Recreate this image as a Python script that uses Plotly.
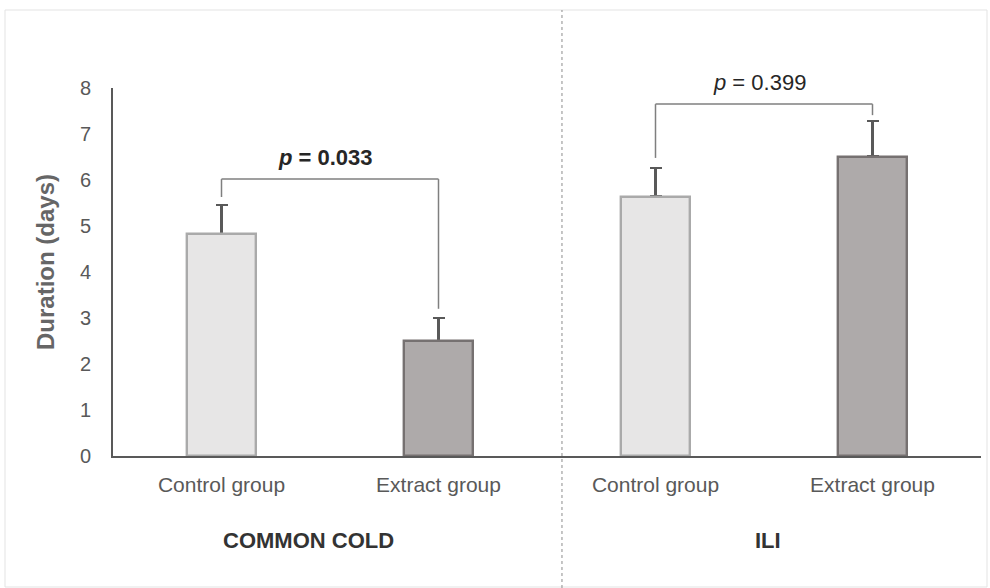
import plotly.graph_objects as go

# ---- data ----
categories = ["Control group", "Extract group", "Control group", "Extract group"]
groups = ["COMMON COLD", "ILI"]
durations = [4.82, 2.50, 5.64, 6.51]
errors_up = [0.64, 0.50, 0.62, 0.77]
is_extract = [False, True, False, True]
# significance brackets: (left idx, right idx, bar height, left leg bottom, right leg bottom, label, bold, label y)
brackets = [
    (0, 1, 6.02, 5.63, 3.20, "p = 0.033", True, 6.48),
    (2, 3, 7.65, 6.48, 7.41, "p = 0.399", False, 8.13),
]
y_ticks = [0, 1, 2, 3, 4, 5, 6, 7, 8]

FONT = "Arial, 'Liberation Sans', sans-serif"
pos = list(range(len(categories)))
Y_MAX = 8

fill = ["#aeaaaa" if e else "#e7e6e6" for e in is_extract]
edge = ["#767171" if e else "#aaaaaa" for e in is_extract]

fig = go.Figure()
# transparent carrier for error bars (drawn first, so the real bars hide the lower cap)
fig.add_trace(go.Bar(
    x=pos, y=durations, width=0.318,
    marker=dict(color="rgba(0,0,0,0)", line=dict(width=0)),
    error_y=dict(type="data", array=errors_up, arrayminus=[0] * 4, symmetric=False,
                 color="#595959", thickness=2.2, width=6),
    showlegend=False, hoverinfo="skip",
))
fig.add_trace(go.Bar(
    x=pos, y=durations, width=0.318,
    marker=dict(color=fill, line=dict(color=edge, width=2.4)),
    showlegend=False, hoverinfo="skip",
))

shapes = []
annotations = []
for (a, b, h, la, lb, label, bold, ty) in brackets:
    line = dict(color="#7f7f7f", width=1.5)
    shapes.append(dict(type="line", xref="x", yref="y", x0=pos[a], x1=pos[b], y0=h, y1=h, line=line))
    shapes.append(dict(type="line", xref="x", yref="y", x0=pos[a], x1=pos[a], y0=la, y1=h, line=line))
    shapes.append(dict(type="line", xref="x", yref="y", x0=pos[b], x1=pos[b], y0=lb, y1=h, line=line))
    txt = "<i>p</i>" + label[1:]
    if bold:
        txt = "<b>" + txt + "</b>"
    annotations.append(dict(x=(pos[a] + pos[b]) / 2 - 0.02, y=ty / Y_MAX, xref="x", yref="paper",
                            text=txt, showarrow=False, yanchor="middle",
                            font=dict(family=FONT, size=22, color="#262626")))

# group labels
annotations.append(dict(x=0.40, y=(456 - 540) / 368, xref="x", yref="paper", text="<b>" + groups[0] + "</b>",
                        showarrow=False, yanchor="middle", font=dict(family=FONT, size=22, color="#333333")))
annotations.append(dict(x=2.52, y=(456 - 540) / 368, xref="x", yref="paper", text="<b>" + groups[1] + "</b>",
                        showarrow=False, yanchor="middle", font=dict(family=FONT, size=22, color="#333333")))
# y title
annotations.append(dict(x=(45 - 113) / 868, y=(456 - 262) / 368, xref="paper", yref="paper",
                        text="<b>Duration (days)</b>", textangle=-90, showarrow=False,
                        xanchor="center", yanchor="middle",
                        font=dict(family=FONT, size=24, color="#666666")))

# outer frame and separator
shapes.append(dict(type="rect", xref="paper", yref="paper", x0=(5 - 113) / 868, x1=(987 - 113) / 868,
                   y0=(456 - 587) / 368, y1=(456 - 10) / 368, line=dict(color="#e3e3e3", width=1)))
shapes.append(dict(type="line", xref="x", yref="paper", x0=1.569, x1=1.569,
                   y0=(456 - 588) / 368, y1=(456 - 10) / 368,
                   line=dict(color="#8c8c8c", width=1, dash="dot")))

fig.update_layout(
    width=990, height=588,
    margin=dict(l=113, r=9, t=88, b=132),
    paper_bgcolor="white", plot_bgcolor="white",
    font=dict(family=FONT, color="#595959"),
    shapes=shapes, annotations=annotations,
    barmode="overlay", bargap=0,
)
fig.update_xaxes(
    range=[-0.5, 3.5], tickvals=pos, ticktext=categories,
    tickfont=dict(family=FONT, size=21, color="#595959"),
    showline=True, linecolor="#595959", linewidth=2, showgrid=False, zeroline=False,
    ticks="", ticklabelstandoff=9,
)
fig.update_yaxes(
    range=[0, Y_MAX], tickvals=y_ticks,
    tickfont=dict(family=FONT, size=20, color="#595959"),
    showline=True, linecolor="#595959", linewidth=2, showgrid=False, zeroline=False,
    ticks="", ticklabelstandoff=16,
)

fig.write_html("out.html")
